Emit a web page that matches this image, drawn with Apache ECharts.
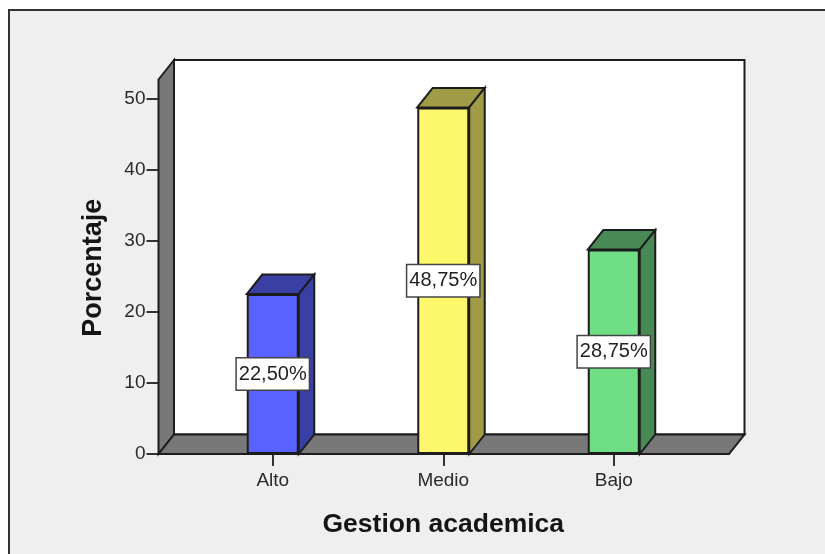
<!DOCTYPE html>
<html><head><meta charset="utf-8">
<style>html,body{margin:0;padding:0;background:#fff}#c{width:825px;height:554px}</style>
<script src="https://cdn.jsdelivr.net/npm/echarts@6/dist/echarts.min.js"></script>
</head><body><div id="c"></div>
<script>
var categories = ['Alto', 'Medio', 'Bajo'];
var values = [22.5, 48.75, 28.75];
var valueLabels = ['22,50%', '48,75%', '28,75%'];
var frontColors = ['#5a63ff', '#fdf76c', '#70de85'];
var sideColors = ['#3a3fa3', '#a09c45', '#488a55'];

var LINE = '#1c1c1c', DX = 15.5, DY = 19.5, WALL = '#787878';
var GRID = {left: 187.5, width: 511.5, top: 98.5, height: 355.5};
var LEFT_OFFSET = 29, RIGHT_EXT = 30, TOP_EXT = 19;
var BAR_W = 52;

var chart = echarts.init(document.getElementById('c'), null, {renderer: 'canvas'});
function poly(points, fill, lw) {
  return {type: 'polygon', shape: {points: points},
    style: {fill: fill, stroke: LINE, lineWidth: lw || 2, lineJoin: 'miter'}};
}
chart.setOption({
  animation: false,
  backgroundColor: '#ffffff',
  graphic: [{type: 'rect', z: -10, silent: true,
    shape: {x: 9, y: 10, width: 830, height: 560},
    style: {fill: '#efefef', stroke: '#333333', lineWidth: 2}}],
  grid: GRID,
  xAxis: {
    type: 'category', data: categories,
    name: 'Gestion academica', nameLocation: 'middle', nameGap: 57,
    nameTextStyle: {fontFamily: 'Liberation Sans', fontSize: 26.5, fontWeight: 'bold', color: '#151515'},
    axisLine: {show: false},
    axisTick: {show: true, alignWithLabel: true, length: 12, lineStyle: {color: '#333', width: 2}},
    axisLabel: {fontFamily: 'Liberation Sans', fontSize: 19, color: '#2a2a2a', margin: 17}
  },
  yAxis: {
    type: 'value', min: 0, max: 50, interval: 10, offset: LEFT_OFFSET,
    name: 'Porcentaje', nameLocation: 'middle', nameGap: 51,
    nameTextStyle: {fontFamily: 'Liberation Sans', fontSize: 27, fontWeight: 'bold', color: '#151515', padding: [0, 0, 0, 17]},
    splitLine: {show: false},
    axisLine: {show: false},
    axisTick: {show: true, length: 12, lineStyle: {color: '#333', width: 2}},
    axisLabel: {fontFamily: 'Liberation Sans', fontSize: 19, color: '#2a2a2a', margin: 13}
  },
  series: [
    { // chart box: back wall, left wall, floor
      type: 'custom', z: 1, silent: true, clip: false, data: [0],
      renderItem: function (p, api) {
        var o = api.coord([0, 0]), t = api.coord([0, 50]);
        var x0 = GRID.left - LEFT_OFFSET, x1 = GRID.left + GRID.width + RIGHT_EXT;
        var y0 = o[1], y1 = t[1] - TOP_EXT;
        return {type: 'group', children: [
          poly([[x0 + DX, y1 - DY], [x1 + DX, y1 - DY], [x1 + DX, y0 - DY], [x0 + DX, y0 - DY]], '#ffffff'),
          poly([[x0, y1], [x0 + DX, y1 - DY], [x0 + DX, y0 - DY], [x0, y0]], WALL),
          poly([[x0, y0], [x0 + DX, y0 - DY], [x1 + DX, y0 - DY], [x1, y0]], WALL)
        ]};
      }
    },
    { // bar depth: top and side faces
      type: 'custom', z: 2, silent: true, clip: false,
      data: values.map(function (v, i) { return [i, v]; }),
      encode: {x: 0, y: 1},
      renderItem: function (p, api) {
        var i = api.value(0), t = api.coord([i, api.value(1)]), b = api.coord([i, 0]);
        var l = t[0] - BAR_W / 2, r = t[0] + BAR_W / 2;
        return {type: 'group', children: [
          poly([[l, t[1]], [l + DX, t[1] - DY], [r + DX, t[1] - DY], [r, t[1]]], sideColors[i]),
          poly([[r, t[1]], [r + DX, t[1] - DY], [r + DX, b[1] - DY], [r, b[1]]], sideColors[i])
        ]};
      }
    },
    { // front faces with value labels
      type: 'bar', z: 3, barWidth: BAR_W,
      data: values.map(function (v, i) {
        return {value: v, itemStyle: {color: frontColors[i], borderColor: LINE, borderWidth: 2}};
      }),
      label: {
        show: true, position: 'inside', distance: 0,
        formatter: function (p) { return valueLabels[p.dataIndex]; },
        fontFamily: 'Liberation Sans', fontSize: 20, color: '#222222',
        backgroundColor: '#ffffff', borderColor: '#444444', borderWidth: 1.5,
        padding: [6, 2, 5, 2]
      }
    }
  ]
});
</script></body></html>
